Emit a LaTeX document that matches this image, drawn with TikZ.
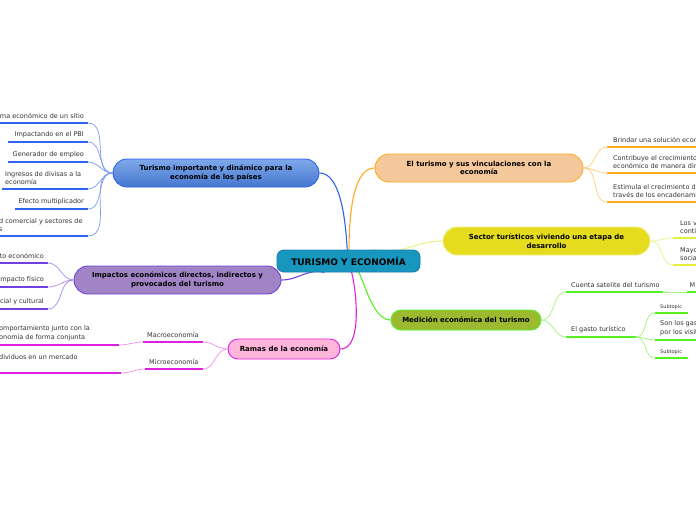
\documentclass[tikz,border=0pt]{standalone}
\usepackage{fontspec}
\setmainfont{DejaVu Sans}
\usetikzlibrary{calc,backgrounds}
\definecolor{cBlue}{HTML}{2E64F0}
\definecolor{cBlueL}{HTML}{7A9CF5}
\definecolor{cPurp}{HTML}{7040E0}
\definecolor{cPurpL}{HTML}{A98BEF}
\definecolor{cMag}{HTML}{E020E0}
\definecolor{cMagL}{HTML}{F28CF2}
\definecolor{cOr}{HTML}{FFA820}
\definecolor{cOrL}{HTML}{FFCB78}
\definecolor{cYel}{HTML}{E6EE3C}
\definecolor{cYelL}{HTML}{EEF08A}
\definecolor{cGr}{HTML}{55F020}
\definecolor{cGrL}{HTML}{A0F57F}
\definecolor{fTeal}{HTML}{1797BE}
\definecolor{dTeal}{HTML}{1E7EB0}
\definecolor{fBlueT}{HTML}{7EA8EA}
\definecolor{fBlueB}{HTML}{4577CF}
\definecolor{fPurp}{HTML}{A084C6}
\definecolor{fPink}{HTML}{FFB5D9}
\definecolor{fOr}{HTML}{F5C89B}
\definecolor{fYel}{HTML}{E6DC1E}
\definecolor{fGr}{HTML}{9BBA2F}
\definecolor{txt}{HTML}{333333}
\begin{document}
\begin{tikzpicture}[x=1pt,y=-1pt,
  every node/.style={inner sep=0pt},
  topic/.style={draw, line width=0.9pt, align=center, text=black,
    font=\fontsize{7}{8.6}\selectfont\bfseries},
  sub/.style={font=\fontsize{6.5}{8.6}\selectfont, text=txt, align=left},
  tinysub/.style={font=\fontsize{5}{6}\selectfont, text=txt},
  ul/.style={line width=1.8pt},
  br/.style={line width=0.7pt},
  mainline/.style={line width=1.1pt}]
\clip (0,0) rectangle (696,520);

% ---------- topic nodes ----------
\node[topic, fill=fTeal, draw=dTeal, minimum width=143pt, minimum height=22pt,
  rounded corners=7pt, font=\fontsize{9}{10}\selectfont\bfseries] (c) at (348.5,261) {TURISMO Y ECONOMÍA};
\node[topic, top color=fBlueT, bottom color=fBlueB, draw=cBlue, minimum width=206pt,
  minimum height=28pt, rounded corners=14pt] (tur) at (216,173)
  {Turismo importante y dinámico para la\\economía de los países};
\node[topic, fill=fPurp, draw=cPurp, minimum width=207pt, minimum height=28pt,
  rounded corners=14pt] (imp) at (177.5,280)
  {Impactos económicos directos, indirectos y\\provocados del turismo};
\node[topic, fill=fPink, draw=cMag, minimum width=112pt, minimum height=20pt,
  rounded corners=10pt] (ram) at (284,349) {Ramas de la economía};
\node[topic, fill=fOr, draw=cOr, minimum width=208pt, minimum height=28pt,
  rounded corners=14pt] (vin) at (479,168)
  {El turismo y sus vinculaciones con la\\economía};
\node[topic, fill=fYel, draw=cYelL, minimum width=207pt, minimum height=28pt,
  rounded corners=14pt] (sec) at (546.5,241)
  {Sector turísticos viviendo una etapa de\\desarrollo};
\node[topic, fill=fGr, draw=cGr, minimum width=150pt, minimum height=20pt,
  rounded corners=10pt] (med) at (466,320) {Medición económica del turismo};

% ---------- main connectors (behind nodes) ----------
\begin{scope}[on background layer]
\fill[white] (0,0) rectangle (696,520);
\draw[mainline, cBlue] (c.north) to[out=-95,in=0] (tur.east);
\draw[mainline, cOr] (c.north) to[out=-85,in=180] (vin.west);
\draw[mainline, cYelL] ($(c.north)+(25,0)$) to[out=-15,in=180] (sec.west);
\draw[mainline, cGr] ($(c.south)+(3,0)$) to[out=70,in=180] (med.west);
\draw[mainline, cMag] (c.south) to[out=90,in=0] (ram.east);
\draw[mainline, cPurp] ($(c.south)+(-24,0)$) to[out=165,in=0] (imp.east);
\end{scope}

% ---------- blue subtopics ----------
\node[sub, anchor=south east] (b1) at (84,119) {ma económico de un sitio};
\node[sub, anchor=south east] (b2) at (84,138) {Impactando en el PBI};
\node[sub, anchor=south east] (b3) at (84,158) {Generador de empleo};
\node[sub, anchor=south west] (b4) at (5,185) {Ingresos de divisas a la\\economía};
\node[sub, anchor=south east] (b5) at (84,205) {Efecto multiplicador};
\node[sub, anchor=south west] (b6) at (-1,232) {d comercial y sectores de\\s};
\foreach \i/\y/\xa in {1/123/-2, 2/142/8, 3/162/8, 4/189/2, 5/209/15, 6/236/-2}{
  \coordinate (b\i a) at (\xa,\y);
  \coordinate (b\i b) at (88,\y);
  \draw[ul, cBlue] (b\i a) -- (b\i b);
  \draw[br, cBlueL] (tur.west) to[out=180,in=0] (b\i b);
}

% ---------- purple subtopics ----------
\node[sub, anchor=south east] (p1) at (44,259) {to económico};
\node[sub, anchor=south east] (p2) at (44,283) {impacto físico};
\node[sub, anchor=south east] (p3) at (44,305) {cial y cultural};
\foreach \i/\y in {1/263, 2/287, 3/309}{
  \coordinate (p\i a) at (-2,\y);
  \coordinate (p\i b) at (48,\y);
  \draw[ul, cPurp] (p\i a) -- (p\i b);
  \draw[br, cPurpL] (imp.west) to[out=180,in=0] (p\i b);
}

% ---------- pink subtopics ----------
\node[sub, anchor=south west] (ma) at (147,338) {Macroeconomía};
\node[sub, anchor=south west] (mi) at (149,365) {Microeconomía};
\coordinate (maa) at (143,342); \coordinate (mab) at (203,342);
\coordinate (mia) at (145,369); \coordinate (mib) at (203,369);
\draw[ul, cMag] (maa) -- (mab);
\draw[ul, cMag] (mia) -- (mib);
\draw[br, cMagL] (ram.west) to[out=180,in=0] (mab);
\draw[br, cMagL] (ram.west) to[out=180,in=0] (mib);
\node[sub, anchor=south west] (mat) at (-1,341) {omportamiento junto con la\\onomía de forma conjunta};
\node[sub, anchor=south west] (mit) at (-1,360) {dividuos en un mercado};
\coordinate (mata) at (-2,345); \coordinate (matb) at (119,345);
\coordinate (mita) at (-2,373); \coordinate (mitb) at (121,373);
\draw[ul, cMag] (mata) -- (matb);
\draw[ul, cMag] (mita) -- (mitb);
\draw[br, cMagL] (maa) to[out=180,in=0] (matb);
\draw[br, cMagL] (mia) to[out=180,in=0] (mitb);

% ---------- orange subtopics ----------
\node[sub, anchor=south west] (o1) at (613,143) {Brindar una solución econ};
\node[sub, anchor=south west] (o2) at (613,169) {Contribuye el crecimiento\\económico de manera dir};
\node[sub, anchor=south west] (o3) at (613,198) {Estimula el crecimiento d\\través de los encadenami};
\foreach \i/\y in {1/147, 2/173, 3/202}{
  \coordinate (o\i a) at (607,\y);
  \coordinate (o\i b) at (700,\y);
  \draw[ul, cOr] (o\i a) -- (o\i b);
  \draw[br, cOrL] (vin.east) to[out=0,in=180] (o\i a);
}

% ---------- yellow subtopics ----------
\node[sub, anchor=south west] (y1) at (680,234) {Los v\\conti};
\node[sub, anchor=south west] (y2) at (680,261) {Mayo\\socia};
\foreach \i/\y in {1/238, 2/265}{
  \coordinate (y\i a) at (673,\y);
  \coordinate (y\i b) at (700,\y);
  \draw[ul, cYel] (y\i a) -- (y\i b);
  \draw[br, cYelL] (sec.east) to[out=0,in=180] (y\i a);
}

% ---------- green subtopics ----------
\node[sub, anchor=south west] (g1) at (571,288) {Cuenta satelite del turismo};
\node[sub, anchor=south west] (g2) at (571,333) {El gasto turístico};
\coordinate (g1a) at (566,292); \coordinate (g1b) at (663,292);
\coordinate (g2a) at (566,337); \coordinate (g2b) at (636,337);
\draw[ul, cGr] (g1a) -- (g1b);
\draw[ul, cGr] (g2a) -- (g2b);
\draw[br, cGrL] (med.east) to[out=0,in=180] (g1a);
\draw[br, cGrL] (med.east) to[out=0,in=180] (g2a);

\node[sub, anchor=south west] (g11) at (689.5,288) {M};
\coordinate (g11a) at (687,292); \coordinate (g11b) at (700,292);
\draw[ul, cGr] (g11a) -- (g11b);
\draw[br, cGrL] (g1b) -- (g11a);

\node[tinysub, anchor=south west] (g21) at (660,310) {Subtopic};
\node[sub, anchor=south west] (g22) at (660,336) {Son los gas\\por los visit};
\node[tinysub, anchor=south west] (g23) at (660,355) {Subtopic};
\coordinate (g21a) at (655,313); \coordinate (g21b) at (688,313);
\coordinate (g22a) at (655,340); \coordinate (g22b) at (700,340);
\coordinate (g23a) at (655,358); \coordinate (g23b) at (688,358);
\foreach \n in {g21,g22,g23}{
  \draw[ul, cGr] (\n a) -- (\n b);
  \draw[br, cGrL] (g2b) to[out=0,in=180] (\n a);
}
\end{tikzpicture}
\end{document}
